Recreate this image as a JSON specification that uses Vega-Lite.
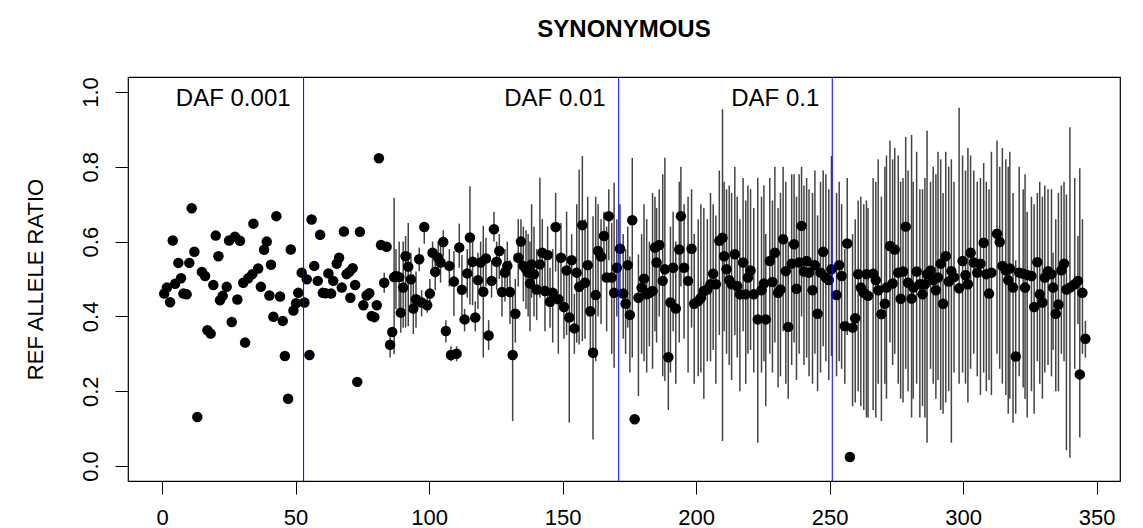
{
"$schema": "https://vega.github.io/schema/vega-lite/v6.json",
"width": 992, "height": 404,
"autosize": {"type": "none"},
"padding": {"left": 128, "top": 77, "right": 23, "bottom": 47},
"background": "white",
"config": {
  "view": {"stroke": "black", "strokeWidth": 1.2},
  "font": "Liberation Sans",
  "axis": {"grid": false, "domain": false, "tickColor": "black", "tickSize": 13, "tickWidth": 1, "labelFont": "Liberation Sans", "labelFontSize": 22, "labelColor": "black", "titleFont": "Liberation Sans", "titleFontSize": 22, "titleFontWeight": "normal", "titleColor": "black"},
  "axisX": {"labelPadding": 13, "labelBaseline": "top", "labelAlign": "center", "labelFlush": false, "labelOverlap": false},
  "axisY": {"labelAngle": 270, "labelAlign": "center", "labelBaseline": "alphabetic", "labelPadding": 18, "labelFlush": false, "labelOverlap": false, "titleAngle": 270, "titleAlign": "center", "titleBaseline": "alphabetic", "titleX": -86, "titleY": 202}
},
"title": {"text": "SYNONYMOUS", "font": "Liberation Sans", "fontSize": 24, "fontWeight": "bold", "color": "black", "anchor": "middle", "baseline": "alphabetic", "offset": 16},
"datasets": {
"daf": [{"d": 53, "t": "DAF 0.001"}, {"d": 171, "t": "DAF 0.01"}, {"d": 251, "t": "DAF 0.1"}],
"pts": [
{"i":0.8,"r":0.461},{"i":1.8,"r":0.477},{"i":3.0,"r":0.438},{"i":4.0,"r":0.603},{"i":4.9,"r":0.487},{"i":6.1,"r":0.543},{"i":7.1,"r":0.502},{"i":8.0,"r":0.461},{"i":9.2,"r":0.459},{"i":10.2,"r":0.543},
{"i":11.1,"r":0.689},{"i":12.1,"r":0.573},{"i":13.2,"r":0.131},{"i":14.9,"r":0.519},{"i":16.1,"r":0.508},{"i":17.0,"r":0.363},{"i":18.2,"r":0.354},{"i":19.2,"r":0.484},{"i":20.1,"r":0.616},{"i":21.1,"r":0.561},
{"i":21.7,"r":0.443},{"i":22.7,"r":0.455},{"i":24.2,"r":0.479},{"i":25.1,"r":0.603},{"i":26.1,"r":0.385},{"i":27.3,"r":0.613},{"i":28.2,"r":0.445},{"i":29.2,"r":0.602},{"i":30.4,"r":0.490},{"i":31.1,"r":0.330},
{"i":32.3,"r":0.502},{"i":33.8,"r":0.513},{"i":34.2,"r":0.648},{"i":36.0,"r":0.528},{"i":37.0,"r":0.479},{"i":38.2,"r":0.578},{"i":39.2,"r":0.600},{"i":40.2,"r":0.456},{"i":40.8,"r":0.538},{"i":41.7,"r":0.399},
{"i":42.8,"r":0.668},{"i":44.2,"r":0.453},{"i":45.2,"r":0.388},{"i":46.0,"r":0.294},{"i":47.2,"r":0.180},{"i":48.2,"r":0.579},{"i":49.2,"r":0.416},{"i":50.2,"r":0.435},{"i":51.0,"r":0.463},{"i":52.3,"r":0.517},
{"i":53.3,"r":0.437},{"i":54.2,"r":0.499},{"i":55.2,"r":0.297},{"i":56.0,"r":0.659},{"i":57.0,"r":0.535},{"i":58.3,"r":0.495},{"i":59.2,"r":0.618},{"i":60.2,"r":0.463},{"i":61.2,"r":0.462},{"i":62.3,"r":0.515},
{"i":63.3,"r":0.461},{"i":64.1,"r":0.495},{"i":65.4,"r":0.541},{"i":66.3,"r":0.557},{"i":67.3,"r":0.477},{"i":68.1,"r":0.627},{"i":69.1,"r":0.513},{"i":70.1,"r":0.519},{"i":70.5,"r":0.450},{"i":71.4,"r":0.529},
{"i":72.3,"r":0.484},{"i":73.1,"r":0.225},{"i":74.1,"r":0.626},{"i":75.4,"r":0.430},{"i":76.6,"r":0.456},{"i":77.6,"r":0.462},{"i":78.5,"r":0.401},{"i":79.5,"r":0.398},{"i":80.4,"r":0.430},{"i":81.2,"r":0.823},
{"i":82.0,"r":0.591},{"i":83.2,"r":0.490,"lo":0.463,"hi":0.517},{"i":84.1,"r":0.586},{"i":85.4,"r":0.324,"lo":0.29,"hi":0.36},{"i":86.2,"r":0.358},{"i":86.9,"r":0.505,"lo":0.299,"hi":0.717},
{"i":87.6,"r":0.508,"lo":0.42,"hi":0.58},{"i":88.8,"r":0.505,"lo":0.40,"hi":0.60},{"i":89.4,"r":0.410,"lo":0.356,"hi":0.468},{"i":90.3,"r":0.477,"lo":0.37,"hi":0.60},{"i":91.2,"r":0.561,"lo":0.37,"hi":0.615},
{"i":92.2,"r":0.533,"lo":0.374,"hi":0.65},{"i":93.2,"r":0.499,"lo":0.42,"hi":0.57},{"i":94.1,"r":0.421,"lo":0.353,"hi":0.513},{"i":95.1,"r":0.446,"lo":0.37,"hi":0.52},{"i":96.3,"r":0.553,"lo":0.521,"hi":0.584},
{"i":97.2,"r":0.437,"lo":0.40,"hi":0.47},{"i":98.2,"r":0.639,"lo":0.594,"hi":0.65},{"i":99.3,"r":0.430,"lo":0.41,"hi":0.45},{"i":100.3,"r":0.461,"lo":0.43,"hi":0.50},{"i":101.3,"r":0.570,"lo":0.53,"hi":0.60},
{"i":102.3,"r":0.519,"lo":0.47,"hi":0.56},{"i":103.4,"r":0.557,"lo":0.51,"hi":0.60},{"i":104.3,"r":0.544,"lo":0.49,"hi":0.59},{"i":105.3,"r":0.599,"lo":0.56,"hi":0.63},{"i":106.3,"r":0.361,"lo":0.33,"hi":0.39},
{"i":107.6,"r":0.535,"lo":0.48,"hi":0.58},{"i":108.2,"r":0.297,"lo":0.28,"hi":0.32},{"i":109.3,"r":0.493,"lo":0.401,"hi":0.575},{"i":110.3,"r":0.300,"lo":0.28,"hi":0.32},{"i":111.3,"r":0.584,"lo":0.530,"hi":0.648},
{"i":112.3,"r":0.471,"lo":0.404,"hi":0.564},{"i":113.3,"r":0.392,"lo":0.36,"hi":0.42},{"i":114.3,"r":0.515,"lo":0.45,"hi":0.58},{"i":115.3,"r":0.611,"lo":0.432,"hi":0.748},{"i":116.3,"r":0.546,"lo":0.43,"hi":0.62},
{"i":117.3,"r":0.397,"lo":0.36,"hi":0.44},{"i":118.3,"r":0.497,"lo":0.42,"hi":0.57},{"i":119.3,"r":0.544,"lo":0.47,"hi":0.60},{"i":120.3,"r":0.466,"lo":0.290,"hi":0.642},{"i":121.3,"r":0.555,"lo":0.48,"hi":0.61},
{"i":122.3,"r":0.349,"lo":0.31,"hi":0.39},{"i":123.4,"r":0.495,"lo":0.45,"hi":0.55},{"i":124.3,"r":0.633,"lo":0.60,"hi":0.68},{"i":125.3,"r":0.546,"lo":0.47,"hi":0.60},{"i":126.3,"r":0.575,"lo":0.50,"hi":0.62},
{"i":127.3,"r":0.465,"lo":0.40,"hi":0.53},{"i":128.4,"r":0.517,"lo":0.44,"hi":0.58},{"i":129.3,"r":0.535,"lo":0.46,"hi":0.60},{"i":130.3,"r":0.465,"lo":0.38,"hi":0.55},{"i":131.3,"r":0.297,"lo":0.120,"hi":0.463},
{"i":132.3,"r":0.407,"lo":0.33,"hi":0.50},{"i":133.4,"r":0.557,"lo":0.48,"hi":0.66},{"i":134.4,"r":0.600,"lo":0.54,"hi":0.66},{"i":135.3,"r":0.535,"lo":0.44,"hi":0.64},{"i":136.3,"r":0.526,"lo":0.42,"hi":0.63},
{"i":137.1,"r":0.517,"lo":0.40,"hi":0.62},{"i":137.8,"r":0.488,"lo":0.36,"hi":0.60},{"i":138.4,"r":0.539,"lo":0.45,"hi":0.70},{"i":139.3,"r":0.513,"lo":0.40,"hi":0.64},{"i":140.3,"r":0.472,"lo":0.39,"hi":0.58},
{"i":141.5,"r":0.539,"lo":0.450,"hi":0.771},{"i":142.4,"r":0.570,"lo":0.47,"hi":0.66},{"i":143.4,"r":0.468,"lo":0.36,"hi":0.57},{"i":144.4,"r":0.564,"lo":0.44,"hi":0.64},{"i":145.3,"r":0.439,"lo":0.37,"hi":0.53},
{"i":146.3,"r":0.463,"lo":0.33,"hi":0.58},{"i":147.4,"r":0.639,"lo":0.52,"hi":0.73},{"i":148.4,"r":0.446,"lo":0.30,"hi":0.56},{"i":149.4,"r":0.557,"lo":0.42,"hi":0.65},{"i":150.5,"r":0.425,"lo":0.34,"hi":0.52},
{"i":151.5,"r":0.523,"lo":0.35,"hi":0.68},{"i":152.5,"r":0.397,"lo":0.116,"hi":0.539},{"i":153.4,"r":0.550,"lo":0.40,"hi":0.62},{"i":154.4,"r":0.368,"lo":0.30,"hi":0.46},{"i":155.3,"r":0.517,"lo":0.33,"hi":0.70},
{"i":156.2,"r":0.479,"lo":0.325,"hi":0.793},{"i":157.4,"r":0.644,"lo":0.334,"hi":0.829},{"i":158.4,"r":0.490,"lo":0.34,"hi":0.66},{"i":159.4,"r":0.537,"lo":0.40,"hi":0.72},{"i":160.4,"r":0.414,"lo":0.30,"hi":0.55},
{"i":161.4,"r":0.303,"lo":0.071,"hi":0.668},{"i":162.4,"r":0.457,"lo":0.28,"hi":0.72},{"i":163.3,"r":0.575,"lo":0.40,"hi":0.70},{"i":164.4,"r":0.560,"lo":0.38,"hi":0.66},{"i":165.5,"r":0.615,"lo":0.50,"hi":0.68},
{"i":166.5,"r":0.504,"lo":0.36,"hi":0.64},{"i":167.3,"r":0.668,"lo":0.55,"hi":0.74},{"i":168.4,"r":0.504,"lo":0.30,"hi":0.65},{"i":169.3,"r":0.463,"lo":0.263,"hi":0.757},{"i":170.3,"r":0.530,"lo":0.40,"hi":0.66},
{"i":171.5,"r":0.581,"lo":0.45,"hi":0.70},{"i":172.7,"r":0.461,"lo":0.34,"hi":0.62},{"i":173.6,"r":0.434,"lo":0.30,"hi":0.58},{"i":174.4,"r":0.537,"lo":0.37,"hi":0.64},{"i":175.2,"r":0.404,"lo":0.25,"hi":0.56},
{"i":176.1,"r":0.657,"lo":0.290,"hi":0.824},{"i":177.0,"r":0.125},
{"i":178.4,"r":0.450,"lo":0.187,"hi":0.566},{"i":179.6,"r":0.477,"lo":0.30,"hi":0.62},{"i":180.5,"r":0.501,"lo":0.28,"hi":0.70},{"i":181.5,"r":0.459,"lo":0.25,"hi":0.66},{"i":182.5,"r":0.463,"lo":0.32,"hi":0.60},
{"i":183.7,"r":0.468,"lo":0.26,"hi":0.73},{"i":184.6,"r":0.584,"lo":0.36,"hi":0.72},{"i":185.2,"r":0.544,"lo":0.33,"hi":0.69},{"i":186.2,"r":0.591,"lo":0.40,"hi":0.74},{"i":187.5,"r":0.495,"lo":0.24,"hi":0.78},
{"i":188.3,"r":0.526,"lo":0.227,"hi":0.824},{"i":189.6,"r":0.291,"lo":0.15,"hi":0.45},{"i":190.4,"r":0.437,"lo":0.25,"hi":0.64},{"i":191.4,"r":0.530,"lo":0.36,"hi":0.68},{"i":192.4,"r":0.421,"lo":0.22,"hi":0.60},
{"i":193.7,"r":0.579,"lo":0.33,"hi":0.76},{"i":194.3,"r":0.668,"lo":0.48,"hi":0.80},{"i":195.5,"r":0.530,"lo":0.34,"hi":0.70},{"i":197.0,"r":0.495,"lo":0.25,"hi":0.72},{"i":198.3,"r":0.581,"lo":0.37,"hi":0.74},
{"i":199.3,"r":0.434,"lo":0.22,"hi":0.62},{"i":200.8,"r":0.441,"lo":0.24,"hi":0.66},{"i":201.8,"r":0.450,"lo":0.25,"hi":0.70},{"i":202.9,"r":0.468,"lo":0.18,"hi":0.69},{"i":204.2,"r":0.472,"lo":0.28,"hi":0.66},
{"i":205.4,"r":0.486,"lo":0.28,"hi":0.73},{"i":206.4,"r":0.514,"lo":0.31,"hi":0.70},{"i":207.4,"r":0.486,"lo":0.22,"hi":0.67},{"i":208.7,"r":0.602,"lo":0.35,"hi":0.79},{"i":209.9,"r":0.610,"lo":0.067,"hi":0.954},
{"i":210.5,"r":0.561,"lo":0.36,"hi":0.76},{"i":211.4,"r":0.526,"lo":0.30,"hi":0.74},{"i":212.4,"r":0.497,"lo":0.27,"hi":0.75},{"i":213.3,"r":0.486,"lo":0.23,"hi":0.73},{"i":214.5,"r":0.566,"lo":0.35,"hi":0.80},
{"i":215.4,"r":0.481,"lo":0.29,"hi":0.72},{"i":216.4,"r":0.459,"lo":0.20,"hi":0.66},{"i":217.6,"r":0.544,"lo":0.36,"hi":0.77},{"i":218.6,"r":0.459,"lo":0.22,"hi":0.71},{"i":219.4,"r":0.504,"lo":0.30,"hi":0.75},
{"i":220.4,"r":0.523,"lo":0.31,"hi":0.74},{"i":221.6,"r":0.459,"lo":0.25,"hi":0.69},{"i":223.1,"r":0.392,"lo":0.062,"hi":0.771},{"i":224.5,"r":0.470,"lo":0.25,"hi":0.72},{"i":225.4,"r":0.488,"lo":0.28,"hi":0.75},
{"i":226.1,"r":0.392,"lo":0.16,"hi":0.62},{"i":227.6,"r":0.548,"lo":0.30,"hi":0.77},{"i":228.6,"r":0.492,"lo":0.25,"hi":0.71},{"i":229.5,"r":0.570,"lo":0.33,"hi":0.80},{"i":230.7,"r":0.463,"lo":0.21,"hi":0.69},
{"i":231.6,"r":0.472,"lo":0.24,"hi":0.73},{"i":232.6,"r":0.606,"lo":0.36,"hi":0.80},{"i":233.6,"r":0.521,"lo":0.22,"hi":0.76},{"i":234.5,"r":0.372,"lo":0.18,"hi":0.60},{"i":235.8,"r":0.541,"lo":0.27,"hi":0.78},
{"i":236.7,"r":0.593,"lo":0.33,"hi":0.78},{"i":237.6,"r":0.474,"lo":0.23,"hi":0.72},{"i":238.6,"r":0.544,"lo":0.30,"hi":0.78},{"i":239.5,"r":0.642,"lo":0.40,"hi":0.80},{"i":240.4,"r":0.520,"lo":0.27,"hi":0.75},
{"i":241.4,"r":0.548,"lo":0.29,"hi":0.77},{"i":242.3,"r":0.517,"lo":0.24,"hi":0.74},{"i":243.6,"r":0.470,"lo":0.22,"hi":0.73},{"i":244.5,"r":0.537,"lo":0.30,"hi":0.79},{"i":245.5,"r":0.407,"lo":0.20,"hi":0.67},
{"i":246.6,"r":0.517,"lo":0.25,"hi":0.76},{"i":247.6,"r":0.573,"lo":0.32,"hi":0.79},{"i":248.6,"r":0.504,"lo":0.28,"hi":0.78},{"i":249.7,"r":0.497,"lo":0.23,"hi":0.74},{"i":250.7,"r":0.526,"lo":0.294,"hi":0.829},
{"i":252.6,"r":0.457,"lo":0.24,"hi":0.73},{"i":253.6,"r":0.537,"lo":0.28,"hi":0.76},{"i":254.5,"r":0.508,"lo":0.26,"hi":0.70},{"i":255.7,"r":0.374,"lo":0.22,"hi":0.58},{"i":256.6,"r":0.595,"lo":0.35,"hi":0.77},
{"i":257.6,"r":0.024},{"i":258.6,"r":0.370,"lo":0.16,"hi":0.62},{"i":259.6,"r":0.395,"lo":0.17,"hi":0.66},{"i":260.7,"r":0.513,"lo":0.20,"hi":0.71},{"i":261.7,"r":0.477,"lo":0.16,"hi":0.72},
{"i":262.8,"r":0.463,"lo":0.15,"hi":0.70},{"i":263.8,"r":0.513,"lo":0.13,"hi":0.71},{"i":264.4,"r":0.455,"lo":0.13,"hi":0.69},{"i":266.3,"r":0.514,"lo":0.15,"hi":0.77},{"i":267.3,"r":0.497,"lo":0.13,"hi":0.76},
{"i":268.2,"r":0.470,"lo":0.22,"hi":0.82},{"i":269.4,"r":0.406,"lo":0.12,"hi":0.72},{"i":270.7,"r":0.434,"lo":0.22,"hi":0.80},{"i":271.3,"r":0.477,"lo":0.18,"hi":0.83},{"i":272.6,"r":0.588,"lo":0.33,"hi":0.87},
{"i":273.6,"r":0.488,"lo":0.27,"hi":0.82},{"i":274.4,"r":0.579,"lo":0.30,"hi":0.85},{"i":275.7,"r":0.517,"lo":0.22,"hi":0.83},{"i":276.6,"r":0.447,"lo":0.18,"hi":0.76},{"i":277.5,"r":0.520,"lo":0.17,"hi":0.77},
{"i":278.5,"r":0.640,"lo":0.26,"hi":0.88},{"i":279.4,"r":0.490,"lo":0.20,"hi":0.79},{"i":280.7,"r":0.448,"lo":0.13,"hi":0.885},{"i":281.3,"r":0.477,"lo":0.18,"hi":0.76},{"i":282.6,"r":0.520,"lo":0.22,"hi":0.84},
{"i":283.8,"r":0.486,"lo":0.13,"hi":0.74},{"i":284.8,"r":0.459,"lo":0.16,"hi":0.74},{"i":285.7,"r":0.486,"lo":0.13,"hi":0.77},{"i":286.5,"r":0.513,"lo":0.062,"hi":0.896},{"i":287.8,"r":0.523,"lo":0.26,"hi":0.76},
{"i":288.8,"r":0.497,"lo":0.22,"hi":0.80},{"i":289.8,"r":0.470,"lo":0.18,"hi":0.78},{"i":290.6,"r":0.504,"lo":0.23,"hi":0.84},{"i":291.6,"r":0.541,"lo":0.15,"hi":0.82},{"i":292.5,"r":0.434,"lo":0.14,"hi":0.73},
{"i":293.5,"r":0.561,"lo":0.17,"hi":0.84},{"i":294.6,"r":0.493,"lo":0.20,"hi":0.80},{"i":295.6,"r":0.521,"lo":0.062,"hi":0.82},{"i":296.6,"r":0.505,"lo":0.25,"hi":0.76},{"i":298.5,"r":0.475,"lo":0.22,"hi":0.958},
{"i":299.8,"r":0.548,"lo":0.25,"hi":0.83},{"i":300.9,"r":0.510,"lo":0.22,"hi":0.79},{"i":301.8,"r":0.486,"lo":0.17,"hi":0.85},{"i":302.8,"r":0.570,"lo":0.26,"hi":0.83},{"i":304.0,"r":0.544,"lo":0.30,"hi":0.79},
{"i":305.3,"r":0.517,"lo":0.24,"hi":0.76},{"i":306.5,"r":0.541,"lo":0.19,"hi":0.77},{"i":307.7,"r":0.597,"lo":0.25,"hi":0.81},{"i":308.7,"r":0.513,"lo":0.20,"hi":0.76},{"i":309.7,"r":0.461,"lo":0.23,"hi":0.74},
{"i":310.6,"r":0.517,"lo":0.19,"hi":0.84},{"i":312.7,"r":0.621,"lo":0.30,"hi":0.87},{"i":313.7,"r":0.599,"lo":0.26,"hi":0.80},{"i":314.7,"r":0.535,"lo":0.22,"hi":0.85},{"i":316.0,"r":0.523,"lo":0.19,"hi":0.82},
{"i":316.9,"r":0.497,"lo":0.14,"hi":0.80},{"i":317.5,"r":0.528,"lo":0.18,"hi":0.84},{"i":318.7,"r":0.477,"lo":0.116,"hi":0.73},{"i":319.7,"r":0.293,"lo":0.14,"hi":0.55},{"i":321.0,"r":0.517,"lo":0.24,"hi":0.80},
{"i":322.5,"r":0.514,"lo":0.21,"hi":0.74},{"i":323.2,"r":0.477,"lo":0.18,"hi":0.78},{"i":324.0,"r":0.511,"lo":0.13,"hi":0.68},{"i":325.6,"r":0.508,"lo":0.20,"hi":0.72},{"i":326.6,"r":0.425,"lo":0.14,"hi":0.70},
{"i":327.8,"r":0.545,"lo":0.28,"hi":0.73},{"i":328.7,"r":0.459,"lo":0.22,"hi":0.76},{"i":329.7,"r":0.437,"lo":0.18,"hi":0.72},{"i":330.6,"r":0.504,"lo":0.25,"hi":0.75},{"i":331.8,"r":0.521,"lo":0.27,"hi":0.74},
{"i":333.1,"r":0.513,"lo":0.24,"hi":0.74},{"i":333.7,"r":0.477,"lo":0.31,"hi":0.57},{"i":334.7,"r":0.407,"lo":0.20,"hi":0.66},{"i":335.7,"r":0.432,"lo":0.20,"hi":0.73},{"i":336.8,"r":0.523,"lo":0.30,"hi":0.75},
{"i":337.8,"r":0.541,"lo":0.28,"hi":0.76},{"i":338.7,"r":0.472,"lo":0.042,"hi":0.726},{"i":340.0,"r":0.477,"lo":0.022,"hi":0.906},{"i":341.8,"r":0.486,"lo":0.26,"hi":0.77},{"i":343.0,"r":0.495,"lo":0.38,"hi":0.615},
{"i":343.7,"r":0.245,"lo":0.076,"hi":0.796},{"i":344.7,"r":0.463,"lo":0.30,"hi":0.66},{"i":345.8,"r":0.340,"lo":0.290,"hi":0.388}
]
},
"layer": [
  {"data": {"name": "pts"}, "transform": [{"filter": "isValid(datum.lo)"}],
   "mark": {"type": "rule", "color": "#444444", "strokeWidth": 1.5},
   "encoding": {
     "x": {"field": "i", "type": "quantitative", "title": null, "scale": {"domain": [-12.76, 358.76], "nice": false, "zero": false}, "axis": {"values": [0, 50, 100, 150, 200, 250, 300, 350]}},
     "y": {"field": "lo", "type": "quantitative", "title": "REF ALLELE RATIO", "scale": {"domain": [-0.04, 1.04], "nice": false, "zero": false}, "axis": {"values": [0, 0.2, 0.4, 0.6, 0.8, 1.0], "format": ".1f"}},
     "y2": {"field": "hi"}
   }},
  {"data": {"name": "pts"},
   "mark": {"type": "circle", "color": "black", "opacity": 1, "size": 110},
   "encoding": {
     "x": {"field": "i", "type": "quantitative", "title": null},
     "y": {"field": "r", "type": "quantitative", "title": "REF ALLELE RATIO"}
   }},
  {"data": {"name": "daf"},
   "mark": {"type": "rule", "color": "#0000ff", "strokeWidth": 1},
   "encoding": {"x": {"field": "d", "type": "quantitative", "title": null}}},
  {"data": {"name": "daf"},
   "mark": {"type": "text", "align": "right", "baseline": "middle", "dx": -13, "fontSize": 24, "font": "Liberation Sans", "color": "black"},
   "encoding": {"x": {"field": "d", "type": "quantitative", "title": null}, "y": {"datum": 0.98}, "text": {"field": "t"}}}
]
}
